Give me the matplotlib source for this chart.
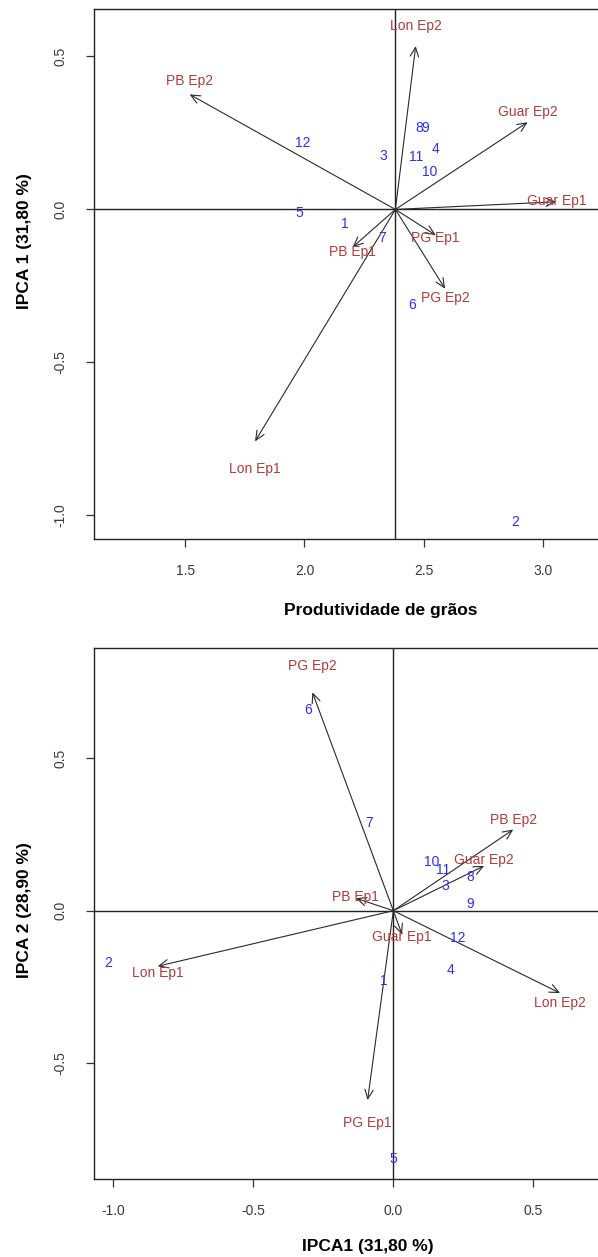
import matplotlib
matplotlib.use("Agg")
import matplotlib.pyplot as plt

plt.rcParams['font.family'] = ['Liberation Sans', 'DejaVu Sans']

# genotypes (blue numbers)
gen_labels = ['1', '2', '3', '4', '5', '6', '7', '8', '9', '10', '11', '12']
# top biplot: grain yield vs IPCA1
gen_yield = [2.171, 2.882, 2.332, 2.547, 1.979, 2.452, 2.326, 2.480, 2.504, 2.526, 2.466, 1.993]
gen_ipca1_top = [-0.048, -1.021, 0.176, 0.198, -0.012, -0.311, -0.094, 0.266, 0.266, 0.121, 0.171, 0.218]
# bottom biplot: IPCA1 vs IPCA2
gen_ipca1 = [-0.035, -1.018, 0.185, 0.205, 0.000, -0.305, -0.088, 0.276, 0.276, 0.1375, 0.177, 0.229]
gen_ipca2 = [-0.232, -0.171, 0.081, -0.193, -0.815, 0.659, 0.288, 0.112, 0.023, 0.160, 0.132, -0.089]

# environments (arrows)
env_labels = ['Lon Ep1', 'Lon Ep2', 'PB Ep1', 'PB Ep2', 'PG Ep1', 'PG Ep2', 'Guar Ep1', 'Guar Ep2']
env_yield = [1.793, 2.466, 2.202, 1.519, 2.550, 2.589, 3.055, 2.935]
env_ipca1_top = [-0.758, 0.534, -0.123, 0.376, -0.084, -0.259, 0.025, 0.285]
env_ipca1 = [-0.841, 0.595, -0.134, 0.428, -0.092, -0.289, 0.031, 0.324]
env_ipca2 = [-0.182, -0.270, 0.041, 0.266, -0.621, 0.716, -0.078, 0.147]

mean_yield = 2.381

GEN_COL = '#2e2ef2'
ENV_COL = '#b23c3c'
TICK_COL = '#3a3a3a'


def biplot(ax, gx, gy, ex, ey, ox, xlim, ylim, xticks, yticks):
    ax.set_xlim(*xlim)
    ax.set_ylim(*ylim)
    ax.axhline(0, color='#222222', lw=1.0, zorder=1)
    ax.axvline(ox, color='#222222', lw=1.0, zorder=1)
    for x, y, lab in zip(ex, ey, env_labels):
        ax.annotate('', xy=(x, y), xytext=(ox, 0),
                    arrowprops=dict(arrowstyle='->,head_length=0.55,head_width=0.25',
                                    lw=0.8, color='#2a2a2a', shrinkA=0, shrinkB=0,
                                    mutation_scale=12), zorder=2)
        # labels sit a bit beyond the arrow tip
        ax.text(x, y * 1.12, lab, color=ENV_COL, fontsize=10,
                ha='center', va='center', zorder=3)
    for x, y, lab in zip(gx, gy, gen_labels):
        ax.text(x, y, lab, color=GEN_COL, fontsize=10,
                ha='center', va='center', zorder=3)
    ax.set_xticks(xticks)
    ax.set_yticks(yticks)
    ax.set_xticklabels(['%.1f' % t for t in xticks])
    ax.set_yticklabels(['%.1f' % t for t in yticks], rotation=90, va='center')
    ax.tick_params(direction='out', length=6, width=0.9, color='#333333',
                   labelsize=10, labelcolor=TICK_COL, pad=12)
    ax.tick_params(axis='y', pad=13)
    for s in ax.spines.values():
        s.set_linewidth(1.0)
        s.set_color('#222222')
    ax.spines['right'].set_visible(False)


W, H = 598, 1257
fig = plt.figure(figsize=(W / 100, H / 100), dpi=100)

ax1 = fig.add_axes([94.2 / W, 1 - 539 / H, (604 - 94.2) / W, 530 / H])
biplot(ax1, gen_yield, gen_ipca1_top, env_yield, env_ipca1_top, mean_yield,
       (1.119, 3.255), (-1.077, 0.655), [1.5, 2.0, 2.5, 3.0], [-1.0, -0.5, 0.0, 0.5])

ax2 = fig.add_axes([94.2 / W, 1 - 1178.8 / H, (604 - 94.2) / W, 530.4 / H])
biplot(ax2, gen_ipca1, gen_ipca2, env_ipca1, env_ipca2, 0.0,
       (-1.068, 0.752), (-0.879, 0.86), [-1.0, -0.5, 0.0, 0.5], [-0.5, 0.0, 0.5])

fig.text(381 / W, 1 - 610 / H, 'Produtividade de grãos', fontsize=12.5,
         fontweight='bold', ha='center', va='center')
fig.text(368 / W, 1 - 1246 / H, 'IPCA1 (31,80 %)', fontsize=12.5,
         fontweight='bold', ha='center', va='center')
fig.text(25 / W, 1 - 241 / H, 'IPCA 1 (31,80 %)', fontsize=12.5,
         fontweight='bold', ha='center', va='center', rotation=90)
fig.text(25 / W, 1 - 910 / H, 'IPCA 2 (28,90 %)', fontsize=12.5,
         fontweight='bold', ha='center', va='center', rotation=90)

fig.savefig('out.png', dpi=100)
